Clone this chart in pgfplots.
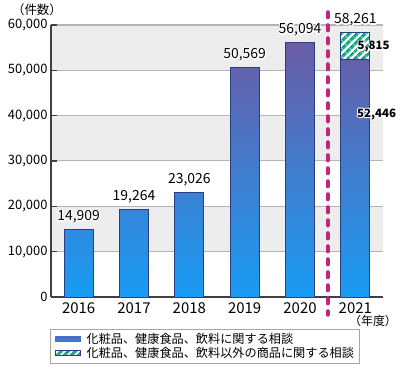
\documentclass[border=0pt]{standalone}
\usepackage{fontspec}
\setmainfont{Noto Sans CJK JP}
\usepackage{pgfplots}
\pgfplotsset{compat=1.18}
\usetikzlibrary{patterns.meta}
\definecolor{bartop}{HTML}{6A5CA6}
\definecolor{barbot}{HTML}{189CF4}
\definecolor{baredge}{HTML}{2B3F80}
\definecolor{hatch}{HTML}{20A58A}
\definecolor{band}{HTML}{EDEDED}
\definecolor{gridc}{HTML}{B4B4B4}
\definecolor{dashc}{HTML}{C0267E}
\definecolor{legblue}{HTML}{3F72C8}
\definecolor{axc}{HTML}{404040}
\newcommand\outlined[1]{\leavevmode\rlap{\color{white}\special{pdf:literal direct 1 Tr 2.2 w 1 j}#1\special{pdf:literal direct 0 Tr}}#1}
\begin{document}
\begin{tikzpicture}
\useasboundingbox (-51bp,-73bp) rectangle (349bp,297bp);
% alternating background bands and grid lines (axis box is 332bp x 272bp)
\fill[band] (0bp,45.333bp) rectangle (332bp,90.667bp);
\fill[band] (0bp,136bp) rectangle (332bp,181.333bp);
\fill[band] (0bp,226.667bp) rectangle (332bp,272bp);
\foreach \yy in {45.333,90.667,136,181.333,226.667}
  {\draw[gridc, line width=1bp] (0bp,\yy bp) -- (332bp,\yy bp);}
\draw[gridc, line width=1.6bp] (0bp,272bp) -- (332bp,272bp);
\begin{axis}[
  scale only axis, width=332bp, height=272bp,
  at={(0,0)}, anchor=south west,
  ybar stacked, bar width=0.525,
  xmin=-0.5, xmax=5.5, ymin=0, ymax=60000,
  axis lines*=left,
  clip=false,
  xtick={0,...,5},
  xticklabels={2016,2017,2018,2019,2020,2021},
  major x tick style={draw=none},
  extra x ticks={0.5,1.5,2.5,3.5,5.5},
  extra x tick labels={},
  extra x tick style={tick style={draw=axc, line width=1.2bp}},
  ytick={0,10000,...,60000},
  scaled y ticks=false,
  /pgf/number format/1000 sep={,},
  /pgf/number format/assume math mode=true,
  y tick label style={font=\fontsize{13}{13}\selectfont, inner ysep=0.5bp},
  x tick label style={font=\fontsize{15}{15}\selectfont, yshift=-2bp},
  tick align=inside,
  major tick length=6bp,
  y tick style={draw=axc, line width=1.2bp},
  axis line style={draw=axc, line width=1.4bp},
  legend style={at={(-0.003,-0.118)}, anchor=north west, draw=gray!70, fill=white,
    font=\fontsize{12.2}{12.2}\selectfont, inner xsep=4bp, inner ysep=2.5bp,
    row sep=-0.5bp, legend cell align=left, nodes={inner sep=1.5bp}},
  legend image post style={xshift=1bp},
]
\addplot[shade, top color=bartop, bottom color=barbot, draw=baredge, line width=0.8bp,
  legend image code/.code={\fill[legblue] (0bp,-2.5bp) rectangle (25bp,2.5bp); \path (29bp,0bp);}]
  coordinates {(0,14909) (1,19264) (2,23026) (3,50569) (4,56094) (5,52446)};
\addlegendentry{化粧品、健康食品、飲料に関する相談}
\addplot[preaction={fill=white}, pattern={Lines[angle=45,distance=6bp,line width=3.8bp]}, pattern color=hatch, draw=baredge, line width=0.8bp,
  legend image code/.code={\fill[white] (0bp,-2.5bp) rectangle (25bp,2.5bp);
    \fill[pattern={Lines[angle=45,distance=5bp,line width=3bp]}, pattern color=hatch] (0bp,-2.5bp) rectangle (25bp,2.5bp); \path (29bp,0bp);}]
  coordinates {(0,0) (1,0) (2,0) (3,0) (4,0) (5,5815)};
\addlegendentry{化粧品、健康食品、飲料以外の商品に関する相談}
\draw[dashc, line width=4.2bp, dash pattern=on 5bp off 8bp, line cap=round] (axis cs:4.5,62800) -- (axis cs:4.5,-3900);
\coordinate (l0) at (axis cs:0,14909);
\coordinate (l1) at (axis cs:1,19264);
\coordinate (l2) at (axis cs:2,23026);
\coordinate (l3) at (axis cs:3,50569);
\coordinate (l4) at (axis cs:4,56094);
\coordinate (l5) at (axis cs:5,58261);
\coordinate (g5) at (axis cs:5.04,54500);
\coordinate (b5) at (axis cs:5.03,39700);
\coordinate (yr) at (axis cs:5.32,-5300);
\end{axis}
\tikzset{toplab/.style={anchor=base,inner sep=0pt,yshift=9bp,font=\fontsize{14}{14}\selectfont}}
\node[toplab] at (l0) {\outlined{14,909}};
\node[toplab] at (l1) {\outlined{19,264}};
\node[toplab] at (l2) {\outlined{23,026}};
\node[toplab] at (l3) {\outlined{50,569}};
\node[toplab] at (l4) {\outlined{56,094}};
\node[toplab] at (l5) {\outlined{58,261}};
\node[anchor=base west,inner sep=0pt,font=\bfseries\fontsize{11.5}{11.5}\selectfont] at (g5) {\outlined{5,815}};
\node[anchor=base west,inner sep=0pt,font=\bfseries\fontsize{11.5}{11.5}\selectfont] at (b5) {\outlined{52,446}};
\node[font=\fontsize{12.5}{12.5}\selectfont, inner sep=0pt] at (-14bp,287bp) {（件数）};
\node[font=\fontsize{12}{12}\selectfont, inner sep=0pt] at (yr) {（年度）};
\end{tikzpicture}
\end{document}
